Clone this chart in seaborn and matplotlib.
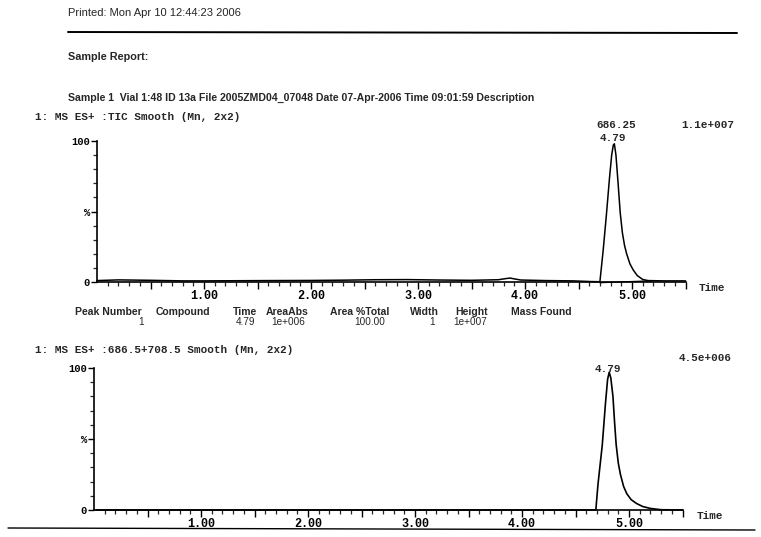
import numpy as np
import pandas as pd
import matplotlib.pyplot as plt
import seaborn as sns
from matplotlib.lines import Line2D

# TIC (panel superior)
tic_time = [0.00, 0.20, 0.50, 0.80, 1.00, 1.30, 1.60, 2.00, 2.30, 2.60, 2.90, 3.20,
            3.50, 3.75, 3.82, 3.86, 3.90, 3.96, 4.20, 4.45, 4.62, 4.70, 4.73, 4.76,
            4.79, 4.81, 4.825, 4.835, 4.85, 4.87, 4.89, 4.91, 4.93, 4.95, 4.98,
            5.01, 5.05, 5.10, 5.15, 5.30, 5.50]
tic_int = [1.0, 1.5, 1.2, 0.8, 0.8, 0.9, 1.0, 1.1, 1.3, 1.6, 1.7, 1.4,
           1.2, 1.6, 2.4, 2.8, 2.2, 1.4, 1.0, 0.8, 0.3, 0.2, 22.0, 47.0,
           74.0, 90.0, 97.0, 98.0, 90.0, 70.0, 49.0, 35.0, 26.0, 20.0, 13.0,
           8.7, 4.5, 1.8, 1.0, 0.8, 0.8]
# linea base de integracion del pico
base_time = [4.70, 5.20]
base_int = [-0.5, 0.9]

# traza 686.5+708.5 (panel inferior)
ms_time = [0.02, 1.00, 2.00, 3.00, 4.00, 4.60, 4.69, 4.71, 4.75, 4.78, 4.80, 4.815,
           4.83, 4.85, 4.865, 4.88, 4.90, 4.92, 4.95, 4.98, 5.02, 5.07, 5.13, 5.20,
           5.30, 5.50]
ms_int = [0.0, 0.0, 0.0, 0.0, 0.0, 0.0, 0.0, 18.0, 45.6, 75.0, 92.0, 97.0,
          93.0, 80.0, 62.0, 46.0, 33.0, 25.0, 16.5, 11.4, 7.3, 4.6, 2.4, 1.1,
          0.2, 0.0]

table_cols = ["Peak Number", "Compound", "Time", "AreaAbs", "Area %Total", "Width", "Height", "Mass Found"]
table_vals = ["1", "4.79", "1e+006", "100.00", "1", "1e+007"]

W, H = 761, 537
sns.set_theme(style="ticks")
plt.rcParams['font.family'] = ['Liberation Sans', 'DejaVu Sans']

fig = plt.figure(figsize=(W / 100, H / 100), dpi=100)
fig.patch.set_facecolor("white")

MONO = "Liberation Mono"


def px(x, y):
    return x / W, 1 - y / H


def ftext(x, y, s, **kw):
    kw.setdefault("va", "center")
    fig.text(*px(x, y), s, **kw)


def preparar_eje(ax):
    ax.set_xlim(0, 5.5)
    ax.set_ylim(0, 100)
    for lado in ["top", "right"]:
        ax.spines[lado].set_visible(False)
    for lado in ["left", "bottom"]:
        ax.spines[lado].set_linewidth(1.2)
        ax.spines[lado].set_color("black")
    mayores = np.arange(0.5, 5.51, 0.5)
    ax.set_xticks(mayores)
    ax.set_xticks(np.arange(0.1, 5.51, 0.1), minor=True)
    ax.set_xticklabels(["" if abs(t - round(t)) > 0.01 else f"{t:.2f}" for t in mayores])
    ax.tick_params(axis="x", which="major", direction="out", length=5, width=1, pad=1,
                   labelsize=8.5, colors="black")
    ax.tick_params(axis="x", which="minor", direction="out", length=3, width=0.9)
    ax.set_yticks([0, 50, 100])
    ax.set_yticklabels(["0", "%", "100"])
    ax.set_yticks(np.arange(10, 100, 10), minor=True)
    ax.tick_params(axis="y", which="major", direction="out", length=4, width=1, pad=1,
                   labelsize=7.5, colors="black")
    ax.tick_params(axis="y", which="minor", direction="out", length=3, width=0.9)
    for lab in ax.get_xticklabels() + ax.get_yticklabels():
        lab.set_fontfamily(MONO)
        lab.set_fontweight("bold")
    ax.set_xlabel("")
    ax.set_ylabel("")
    ax.patch.set_alpha(0)


# panel superior
ax1 = fig.add_axes([97 / W, 1 - 282 / H, 5.5 * 107 / W, 141 / H])
sns.lineplot(x=tic_time, y=tic_int, ax=ax1, color="black", lw=1.1, sort=False)
sns.lineplot(x=base_time, y=base_int, ax=ax1, color="black", lw=0.9, sort=False)
preparar_eje(ax1)
for l in ax1.lines:
    l.set_clip_on(False)

# panel inferior
ax2 = fig.add_axes([94 / W, 1 - 510 / H, 5.5 * 107 / W, 142 / H])
sns.lineplot(x=ms_time, y=ms_int, ax=ax2, color="black", lw=1.2, sort=False)
preparar_eje(ax2)
for l in ax2.lines:
    l.set_clip_on(False)

# textos de cabecera
ftext(68, 13, "Printed: Mon Apr 10 12:44:23 2006", fontsize=8)
fig.add_artist(Line2D([68 / W, 737 / W], [1 - 32 / H, 1 - 33 / H], color="black", lw=1.4))
ftext(68, 57, "Sample Report:", fontsize=7.8, fontweight="bold")
ftext(68, 98, "Sample 1  Vial 1:48 ID 13a File 2005ZMD04_07048 Date 07-Apr-2006 Time 09:01:59 Description",
      fontsize=7.6, fontweight="bold")

mono = dict(family=MONO, fontweight="bold", fontsize=7.9)
ftext(35, 117, "1: MS ES+ :TIC Smooth (Mn, 2x2)", **mono)
ftext(616, 125, "686.25", ha="center", **mono)
ftext(708, 125, "1.1e+007", ha="center", **mono)
ftext(613, 138, "4.79", ha="center", **mono)
ftext(699, 288, "Time", **mono)

# tabla de picos
col_x = [108, 183, 245, 287, 360, 424, 472, 541]
for cx, col in zip(col_x, table_cols):
    ftext(cx, 312, col, ha="center", fontsize=7.5, fontweight="bold")
for cx, val in zip([141, 246, 288, 370, 432, 470], table_vals):
    ftext(cx, 322, val, ha="center", fontsize=7.2)

ftext(35, 350, "1: MS ES+ :686.5+708.5 Smooth (Mn, 2x2)", **mono)
ftext(705, 358, "4.5e+006", ha="center", **mono)
ftext(608, 369, "4.79", ha="center", **mono)
ftext(697, 516, "Time", **mono)

fig.add_artist(Line2D([8 / W, 755 / W], [1 - 528 / H, 1 - 530 / H], color="black", lw=1.0))

fig.savefig("out.png", dpi=100, facecolor="white")
